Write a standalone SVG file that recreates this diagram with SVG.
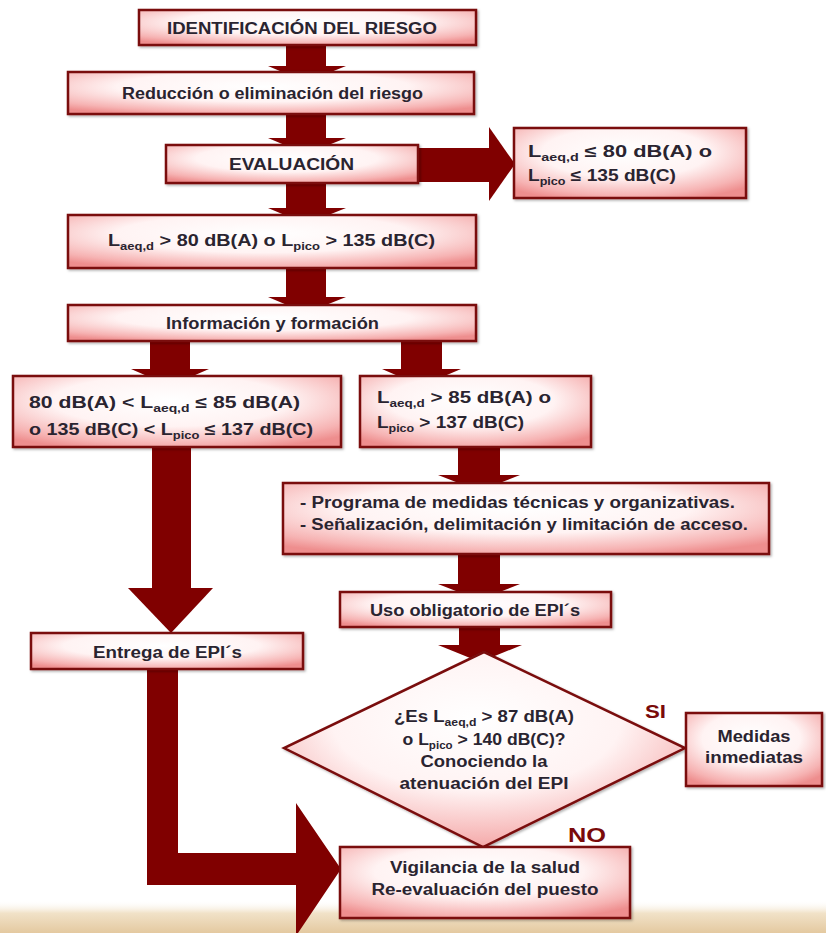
<svg xmlns="http://www.w3.org/2000/svg" width="826" height="933" viewBox="0 0 826 933">
<defs>
<radialGradient id="gbox" cx="48%" cy="35%" r="72%">
<stop offset="0" stop-color="#ffffff"/>
<stop offset="0.5" stop-color="#fff3f3"/>
<stop offset="0.85" stop-color="#f6b3b3"/>
<stop offset="1" stop-color="#ee8e8e"/>
</radialGradient>
<linearGradient id="gsand" x1="0" y1="0" x2="0" y2="1">
<stop offset="0" stop-color="#ffffff" stop-opacity="0"/>
<stop offset="0.4" stop-color="#f1e2c8"/>
<stop offset="1" stop-color="#e4c9a0"/>
</linearGradient>
<filter id="sh" x="-5%" y="-10%" width="110%" height="130%">
<feDropShadow dx="1.5" dy="1.5" stdDeviation="1" flood-color="#000" flood-opacity="0.3"/>
</filter>
</defs>
<style>
.box{fill:url(#gbox);stroke:#7a0d0d;stroke-width:2.5;filter:url(#sh)}
.arr{fill:#800000}
.t{font-family:"Liberation Sans",Arial,sans-serif;font-weight:bold;fill:#2a2430;font-size:16px}
.c{text-anchor:middle}
.sub{font-size:10.5px}
.lbl{font-family:"Liberation Sans",Arial,sans-serif;font-weight:900;fill:#7a0a0a}
</style>
<rect width="826" height="933" fill="#ffffff"/>
<rect x="0" y="900" width="826" height="33" fill="url(#gsand)"/>

<g id="connectors">
<rect class="arr" x="286" y="44" width="40" height="23"/>
<polygon class="arr" points="268,66 346,66 306,82"/>
<rect class="arr" x="286" y="114" width="40" height="25"/>
<polygon class="arr" points="268,138 346,138 306,154"/>
<rect class="arr" x="286" y="182" width="40" height="26"/>
<polygon class="arr" points="268,208 346,208 306,224"/>
<rect class="arr" x="286" y="267" width="40" height="31"/>
<polygon class="arr" points="268,297 346,297 306,313"/>
<rect class="arr" x="417" y="148" width="74" height="34"/>
<polygon class="arr" points="489,127 515,164 489,201"/>
<rect class="arr" x="150" y="340" width="40" height="30"/>
<polygon class="arr" points="131,369 209,369 170,386"/>
<rect class="arr" x="401" y="340" width="41" height="30"/>
<polygon class="arr" points="382,369 461,369 421,386"/>
<rect class="arr" x="152" y="446" width="39" height="144"/>
<polygon class="arr" points="128,588 213,588 171,633"/>
<rect class="arr" x="458" y="446" width="42" height="30"/>
<polygon class="arr" points="438,475 520,475 479,491"/>
<rect class="arr" x="458" y="554" width="42" height="31"/>
<polygon class="arr" points="438,584 520,584 479,600"/>
<rect class="arr" x="459" y="626" width="41" height="20"/>
<polygon class="arr" points="438,645 522,645 480,662"/>
<path class="arr" d="M147,668 L178,668 L178,853 L296,853 L296,803 L341,869 L296,936 L296,885 L147,885 Z"/>
</g>

<g id="n-identificacion">
<rect class="box" x="139" y="10" width="337" height="35"/>
<text class="t" x="167" y="34" textLength="270" lengthAdjust="spacingAndGlyphs" font-size="15">IDENTIFICACIÓN DEL RIESGO</text>
</g>

<g id="n-reduccion">
<rect class="box" x="68" y="72" width="406" height="42"/>
<text class="t" x="122" y="99" textLength="301" lengthAdjust="spacingAndGlyphs">Reducción o eliminación del riesgo</text>
</g>

<g id="n-evaluacion">
<rect class="box" x="166" y="145" width="252" height="38"/>
<text class="t" x="229" y="170" textLength="125" lengthAdjust="spacingAndGlyphs">EVALUACIÓN</text>
</g>

<g id="n-bajo80">
<rect class="box" x="514" y="128" width="232" height="70"/>
<text class="t" x="528" y="157" textLength="184" lengthAdjust="spacingAndGlyphs" font-size="17">L<tspan class="sub" dy="4">aeq,d</tspan><tspan dy="-4"> ≤ 80 dB(A) o</tspan></text>
<text class="t" x="528" y="181" textLength="148" lengthAdjust="spacingAndGlyphs" font-size="17">L<tspan class="sub" dy="4">pico</tspan><tspan dy="-4"> ≤ 135 dB(C)</tspan></text>
</g>

<g id="n-sobre80">
<rect class="box" x="68" y="215" width="408" height="53"/>
<text class="t" x="108" y="246" textLength="327" lengthAdjust="spacingAndGlyphs">L<tspan class="sub" dy="4">aeq,d</tspan><tspan dy="-4"> &gt; 80 dB(A) o L</tspan><tspan class="sub" dy="4">pico</tspan><tspan dy="-4"> &gt; 135 dB(C)</tspan></text>
</g>

<g id="n-informacion">
<rect class="box" x="68" y="305" width="408" height="36"/>
<text class="t" x="166" y="329" textLength="213" lengthAdjust="spacingAndGlyphs" font-size="15">Información y formación</text>
</g>

<g id="n-rango80-85">
<rect class="box" x="13" y="376" width="328" height="71"/>
<text class="t" x="29" y="408" textLength="271" lengthAdjust="spacingAndGlyphs" font-size="17">80 dB(A) &lt; L<tspan class="sub" dy="4">aeq,d</tspan><tspan dy="-4"> ≤ 85 dB(A)</tspan></text>
<text class="t" x="29" y="435" textLength="284" lengthAdjust="spacingAndGlyphs" font-size="17">o 135 dB(C) &lt; L<tspan class="sub" dy="4">pico</tspan><tspan dy="-4"> ≤ 137 dB(C)</tspan></text>
</g>

<g id="n-sobre85">
<rect class="box" x="360" y="376" width="231" height="71"/>
<text class="t" x="377" y="403" textLength="174" lengthAdjust="spacingAndGlyphs" font-size="17">L<tspan class="sub" dy="4">aeq,d</tspan><tspan dy="-4"> &gt; 85 dB(A) o</tspan></text>
<text class="t" x="377" y="428" textLength="147" lengthAdjust="spacingAndGlyphs" font-size="17">L<tspan class="sub" dy="4">pico</tspan><tspan dy="-4"> &gt; 137 dB(C)</tspan></text>
</g>

<g id="n-programa">
<rect class="box" x="283" y="483" width="486" height="71"/>
<text class="t" x="300" y="508" textLength="435" lengthAdjust="spacingAndGlyphs" font-size="17">-  Programa de medidas técnicas y organizativas.</text>
<text class="t" x="300" y="530" textLength="448" lengthAdjust="spacingAndGlyphs" font-size="17">-  Señalización, delimitación y limitación de acceso.</text>
</g>

<g id="n-uso-epis">
<rect class="box" x="340" y="592" width="271" height="35"/>
<text class="t" x="370" y="616" textLength="210" lengthAdjust="spacingAndGlyphs">Uso obligatorio de EPI´s</text>
</g>

<g id="n-entrega">
<rect class="box" x="31" y="633" width="272" height="36"/>
<text class="t" x="93" y="658" textLength="149" lengthAdjust="spacingAndGlyphs">Entrega de EPI´s</text>
</g>

<g id="n-decision">
<polygon class="box" points="484,652 685,748 483,847 284,748"/>
<text class="t c" x="484" y="722" textLength="180" lengthAdjust="spacingAndGlyphs" font-size="15">¿Es L<tspan class="sub" dy="4">aeq,d</tspan><tspan dy="-4"> &gt; 87 dB(A)</tspan></text>
<text class="t c" x="484" y="745" textLength="163" lengthAdjust="spacingAndGlyphs" font-size="15">o L<tspan class="sub" dy="4">pico</tspan><tspan dy="-4"> &gt; 140 dB(C)?</tspan></text>
<text class="t c" x="484" y="767" textLength="127" lengthAdjust="spacingAndGlyphs" font-size="15">Conociendo la</text>
<text class="t c" x="484" y="789" textLength="169" lengthAdjust="spacingAndGlyphs" font-size="15">atenuación del EPI</text>
<text class="lbl" x="645" y="718" font-size="19" textLength="21" lengthAdjust="spacingAndGlyphs">SI</text>
<text class="lbl" x="568" y="842" font-size="20" textLength="38" lengthAdjust="spacingAndGlyphs">NO</text>
</g>

<g id="n-medidas">
<rect class="box" x="686" y="713" width="136" height="73"/>
<text class="t c" x="754" y="742" textLength="73" lengthAdjust="spacingAndGlyphs" font-size="15">Medidas</text>
<text class="t c" x="754" y="763" textLength="98" lengthAdjust="spacingAndGlyphs" font-size="15">inmediatas</text>
</g>

<g id="n-vigilancia">
<rect class="box" x="340" y="847" width="290" height="71"/>
<text class="t c" x="485" y="873" textLength="190" lengthAdjust="spacingAndGlyphs" font-size="15">Vigilancia de la salud</text>
<text class="t c" x="485" y="895" textLength="227" lengthAdjust="spacingAndGlyphs" font-size="15">Re-evaluación del puesto</text>
</g>
</svg>
